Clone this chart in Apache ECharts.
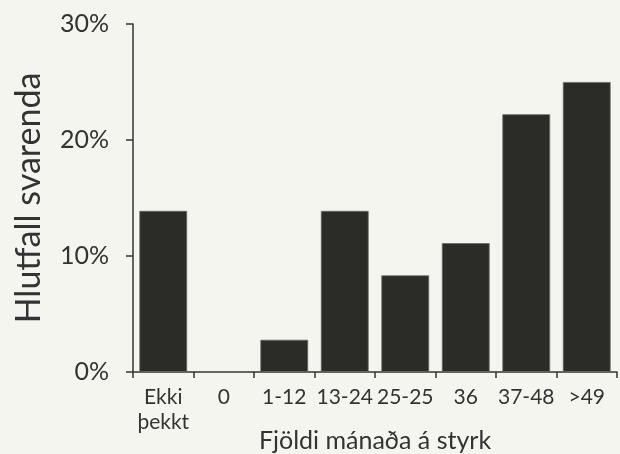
<!DOCTYPE html>
<html>
<head>
<meta charset="utf-8">
<script src="https://cdn.jsdelivr.net/npm/echarts@6/dist/echarts.min.js"></script>
<style>
  html, body { margin: 0; padding: 0; background: #f5f5f0; }
  #chart-container { width: 620px; height: 454px; }
</style>
</head>
<body>
<div id="chart-container"></div>
<script>
const flokkar = ['Ekki\nþekkt', '0', '1-12', '13-24', '25-25', '36', '37-48', '>49'];
const hlutfall = [13.89, 0, 2.78, 13.89, 8.33, 11.11, 22.22, 25];
const yTicks = [0, 10, 20, 30];

let myChart = echarts.init(document.getElementById('chart-container'), null, {
  renderer: 'canvas'
});

const texti = '#333333';

const opciones = {
  backgroundColor: '#f5f5f0',
  textStyle: { fontFamily: 'Lato' },
  animation: false,
  grid: { left: 133, right: 3, top: 24, bottom: 82, outerBoundsMode: 'none' },
  xAxis: {
    type: 'category',
    data: flokkar,
    name: 'Fjöldi mánaða á styrk',
    nameLocation: 'middle',
    nameGap: 56,
    nameMoveOverlap: false,
    nameTextStyle: { color: texti, fontSize: 25, fontFamily: 'Lato' },
    axisLine: { lineStyle: { color: texti, width: 1.5 } },
    axisTick: { show: true, length: 6, lineStyle: { color: texti, width: 1.5 } },
    axisLabel: { color: texti, fontSize: 21, fontFamily: 'Lato', margin: 13, lineHeight: 25, interval: 0 }
  },
  yAxis: {
    type: 'value',
    min: yTicks[0],
    max: yTicks[yTicks.length - 1],
    interval: 10,
    name: 'Hlutfall svarenda',
    nameLocation: 'middle',
    nameGap: 87,
    nameTextStyle: { color: texti, fontSize: 34, fontFamily: 'Lato' },
    splitLine: { show: false },
    axisLine: { show: true, lineStyle: { color: texti, width: 1.5 } },
    axisTick: { show: true, length: 7, lineStyle: { color: texti, width: 1.5 } },
    axisLabel: { color: texti, fontSize: 25, fontFamily: 'Lato', margin: 24, formatter: '{value}%' }
  },
  series: [{
    type: 'bar',
    data: hlutfall,
    barCategoryGap: '21%',
    itemStyle: { color: '#2b2b27', borderColor: '#6b6b66', borderWidth: 0.8 }
  }]
};

myChart.setOption(opciones);
window.addEventListener('resize', myChart.resize);
</script>
</body>
</html>
